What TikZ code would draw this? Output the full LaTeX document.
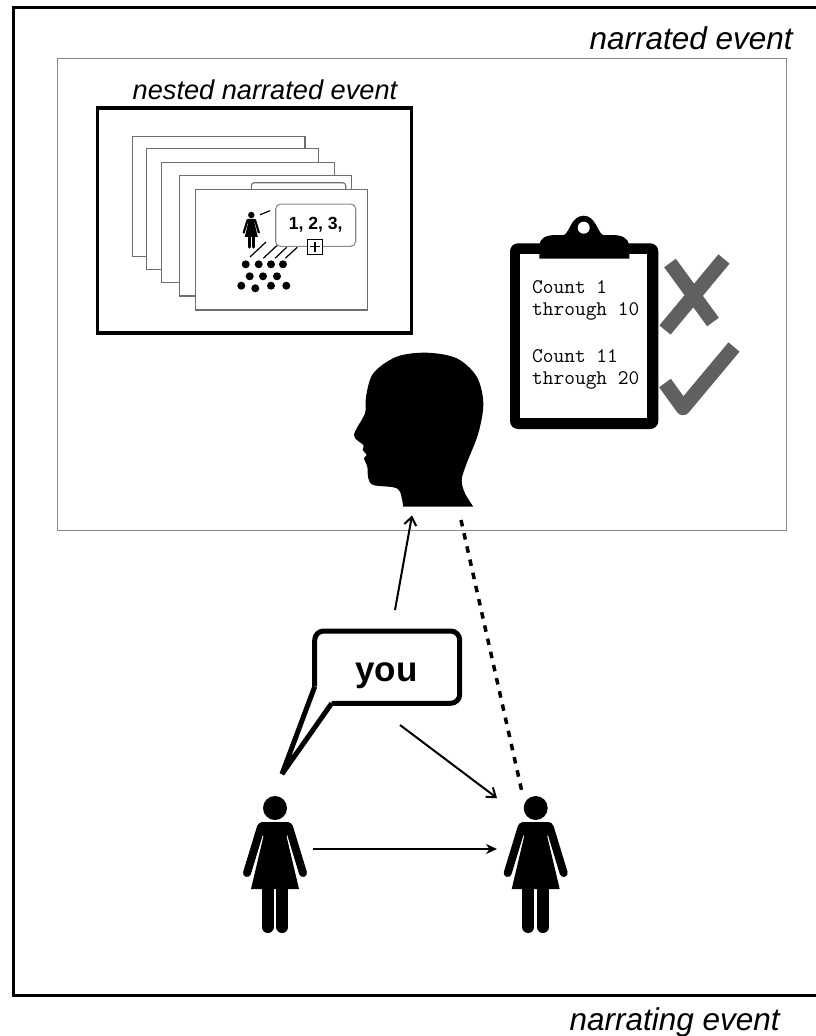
\documentclass[tikz,border=0pt]{standalone}
\usepackage{fontspec}
\setsansfont{Liberation Sans}
\usetikzlibrary{arrows.meta}
\definecolor{markgray}{HTML}{606060}
\definecolor{framegray}{HTML}{8A8A8A}
\tikzset{
 sheetbox/.style={draw=framegray!80!black,fill=white,line width=1.1pt},
 framelabel/.style={font=\sffamily\itshape\fontsize{31.5}{32}\selectfont,inner sep=0pt},
 listtext/.style={font=\ttfamily\fontsize{20.8}{21}\selectfont,anchor=base west,inner sep=0pt},
 graymark/.style={draw=markgray,line width=14.5pt,line join=round},
 talkarrow/.style={line width=2pt}
}
\newcommand{\woman}[3]{%
 \begin{scope}[shift={(#1,#2)},scale=#3]
  \fill (0,0) circle (12);
  \fill[rounded corners=#3*5pt] (-18,14)--(18,14)--(12,30)--(-12,30)--cycle;
  \fill (-10.5,24)--(10.5,24)--(24,81)--(-24,81)--cycle;
  \draw[line width=#3*8pt,line cap=round] (-14,19)--(-28,65) (14,19)--(28,65);
  \draw[line width=#3*12pt,line cap=round] (-7.3,80)--(-7.3,119) (7.3,80)--(7.3,119);
 \end{scope}}
\begin{document}
\begin{tikzpicture}[x=1pt,y=-1pt,>=Stealth]
 \useasboundingbox (0,0) rectangle (816,1036);
 % frames
 \draw[line width=3pt] (13.3,7.7) rectangle (820,995.5);
 \draw[draw=framegray,line width=.9pt] (57,58) rectangle (786,530);
 \node[framelabel,anchor=base east] (narratedlabel) at (793,49) {narrated event};
 \node[framelabel,anchor=base east] (narratinglabel) at (780,1030) {narrating event};
 % nested picture
 \node[framelabel,anchor=base,font=\sffamily\itshape\fontsize{27.2}{28}\selectfont] (nestedlabel) at (265,99) {nested narrated event};
 \draw[line width=3.2pt] (97.5,108) rectangle (411.5,333);
 \draw[sheetbox] (132.3,136.3) rectangle (305,256.7);
 \draw[sheetbox] (146.7,148.7) rectangle (318.7,269.3);
 \draw[sheetbox] (161.3,162.3) rectangle (334.3,282.3);
 \draw[sheetbox] (179.7,175.3) rectangle (351.7,296);
 \draw[sheetbox,rounded corners=3pt] (251.3,195)--(251.3,182.7)--(345.7,182.7)--(345.7,195);
 \draw[sheetbox] (195.7,189.3) rectangle (367.3,310);
 \woman{251.3}{215}{.27}
 \draw[line width=1.2pt] (260,214.7)--(270,210.7);
 \foreach \xa/\ya/\xb/\yb in {250/257/266/242,263.3/258.3/279.3/243.3,275/258.3/286.7/247.3,285.3/258.3/297.3/247.3}
  \draw[line width=1.2pt] (\xa,\ya)--(\xb,\yb);
 \node[draw=framegray,fill=white,line width=1.1pt,rounded corners=5pt,minimum width=80pt,minimum height=42.3pt,inner sep=0pt,font=\sffamily\bfseries\fontsize{17.6}{18}\selectfont] (countbubble) at (315.7,225.2) {1, 2, 3,};
 \node[draw,fill=white,line width=1.2pt,minimum size=15pt,inner sep=0pt] (plusbox) at (315,246.7) {};
 \draw[line width=1.2pt] (plusbox.center)+(-5,0)--+(5,0) (plusbox.center)+(0,-5)--+(0,5);
 \foreach \xa/\ya in {245.7/264.3,258.7/264.3,271/264.3,283/264.3,249.7/276.3,263/276.3,277/276.3,241.3/285.7,255.3/288.3,271/285.7,286.3/285.7}
  \fill (\xa,\ya) circle (4);
 % head
 \fill plot[smooth,tension=.55] coordinates {(403.3,506.7) (400,491.7) (393.3,487.3) (373.3,485) (368.3,478.3) (367.3,466.7) (364,458.3) (366.7,455) (362.7,450) (363.3,445) (354,435) (365,413.3) (366,396.7) (373.3,373.3) (396.7,356.7) (426.7,352.7) (456.7,358.3) (476.7,376.7) (483.3,403.3) (478.3,433.3) (466.7,463.3) (461.7,480) (465,493.3) (473.3,506.7)} -- cycle;
 \coordinate (headleft) at (412,515.5);
 \coordinate (headright) at (461,520);
 % clipboard
 \fill[rounded corners=8pt] (510,243.3) rectangle (658.3,429);
 \fill[white] (520.3,254) rectangle (647.3,417.7);
 \fill (539.3,258.7)--(539.3,245) .. controls (540,238) and (546,235) .. (556,235)--(564,235) .. controls (570,232) and (571,216) .. (583.7,215.7) .. controls (596,216) and (597,232) .. (603,235)--(612,235) .. controls (622,235) and (628,238) .. (629.3,245)--(629.3,258.7)--cycle;
 \fill[white] (583.7,227.7) circle (6);
 \node[listtext] (countone) at (532,293.3) {Count 1};
 \node[listtext] (throughone) at (532,315) {through 10};
 \node[listtext] (counttwo) at (532,362.7) {Count 11};
 \node[listtext] (throughtwo) at (532,384) {through 20};
 \draw[graymark] (670,263)--(713,322) (724,259)--(665,330);
 \draw[graymark] (665,383)--(683,408)--(734,347);
 % speech
 \draw[line width=5pt,rounded corners=9pt] (314.7,686.7)--(314.7,631)--(459.7,631)--(459.7,703.3)--(331.7,703.3);
 \draw[line width=5pt,line join=bevel] (314.7,686.7)--(282,774)--(331.7,703.3);
 \node[inner sep=0pt,anchor=base,font=\sffamily\bfseries\fontsize{35}{35}\selectfont] (youlabel) at (386.5,681) {you};
 % people
 \woman{275}{808}{1}
 \woman{535.7}{808}{1}
 \coordinate (armleft) at (313,849);
 \coordinate (armright) at (497,849);
 \coordinate (bubblelow) at (400,725);
 \coordinate (righttop) at (497,798);
 \coordinate (righthead) at (522,792);
 \coordinate (bubbletop) at (395,610);
 \draw[-{Stealth[length=11pt,width=10pt]},talkarrow] (armleft)--(armright);
 \draw[-{Straight Barb[length=8pt,width=12pt]},talkarrow] (bubblelow)--(righttop);
 \draw[-{Straight Barb[length=8pt,width=12pt]},talkarrow] (bubbletop)--(headleft);
 \draw[line width=3.5pt,dash pattern=on 6.5pt off 7pt] (headright)--(righthead);
\end{tikzpicture}
\end{document}
